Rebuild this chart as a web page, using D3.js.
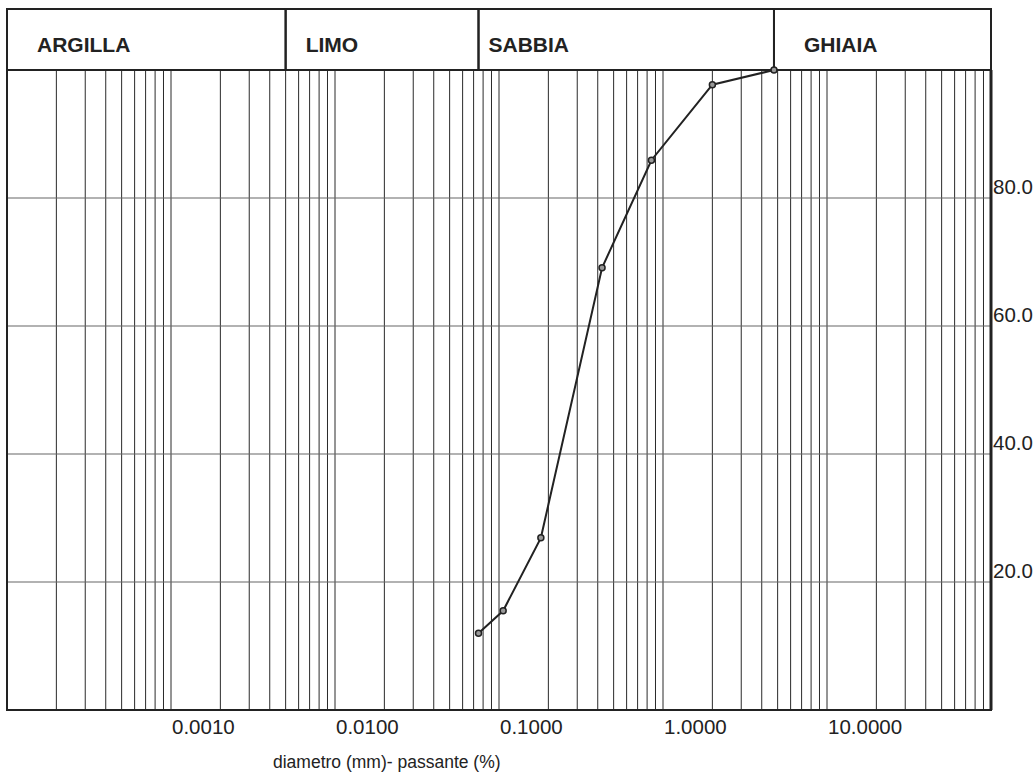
<!DOCTYPE html>
<html>
<head>
<meta charset="utf-8">
<script src="https://cdn.jsdelivr.net/npm/d3@7"></script>
<style>
  html, body { margin: 0; padding: 0; background: #fff; }
  svg { display: block; }
  text { font-family: "Liberation Sans", Arial, Helvetica, sans-serif; fill: #222; }
</style>
</head>
<body>
<svg id="chart" width="1034" height="775"></svg>
<script>
// Grain size distribution: sieve openings (mm) and percent passing
const diameters = [0.075, 0.106, 0.18, 0.425, 0.85, 2.0, 4.75];
const passing   = [12.0, 15.5, 26.9, 69.1, 85.9, 97.7, 100.0];

// Soil classes and their boundaries (mm)
const classes     = ["ARGILLA", "LIMO", "SABBIA", "GHIAIA"];
const classBounds = [0.0001, 0.005, 0.075, 4.75, 100];

// Axis tick labels
const xTickValues = [0.001, 0.01, 0.1, 1, 10];
const xTickLabels = ["0.0010", "0.0100", "0.1000", "1.0000", "10.0000"];
const yTickValues = [20, 40, 60, 80];
const yTickLabels = ["20.0", "40.0", "60.0", "80.0"];

(function () {
  const svg = d3.select("#chart");
  const mLeft = 7, mRight = 991, mTop = 70, mBottom = 710, headTop = 9;

  const x = d3.scaleLog().domain([1e-4, 100]).range([mLeft, mRight]);
  const y = d3.scaleLinear().domain([0, 100]).range([mBottom, mTop]);

  // Vertical log grid: 1..9 in every decade
  const vLines = [];
  for (let e = -4; e <= 1; e++) {
    for (let m = 1; m <= 9; m++) vLines.push(m * Math.pow(10, e));
  }
  svg.append("g")
    .selectAll("line").data(vLines).join("line")
    .attr("x1", d => x(d)).attr("x2", d => x(d))
    .attr("y1", mTop).attr("y2", mBottom)
    .attr("stroke", "#2a2a2a").attr("stroke-width", 1);

  // Horizontal grid
  svg.append("g")
    .selectAll("line").data(yTickValues).join("line")
    .attr("x1", mLeft).attr("x2", mRight)
    .attr("y1", d => y(d)).attr("y2", d => y(d))
    .attr("stroke", "#666").attr("stroke-width", 1.2);

  // Plot frame
  svg.append("rect")
    .attr("x", mLeft).attr("y", mTop)
    .attr("width", mRight - mLeft).attr("height", mBottom - mTop)
    .attr("fill", "none").attr("stroke", "#222").attr("stroke-width", 2);
  svg.append("line")
    .attr("x1", mRight).attr("x2", mRight).attr("y1", mTop).attr("y2", mBottom)
    .attr("stroke", "#222").attr("stroke-width", 3);

  // Class header boxes
  const head = svg.append("g");
  const labelOffset = [30, 20, 10, 30];
  classes.forEach((c, i) => {
    const x0 = x(classBounds[i]), x1 = x(classBounds[i + 1]);
    head.append("rect")
      .attr("x", x0).attr("y", headTop)
      .attr("width", x1 - x0).attr("height", mTop - headTop)
      .attr("fill", "none").attr("stroke", "#222").attr("stroke-width", 2);
    head.append("text")
      .attr("x", x0 + labelOffset[i]).attr("y", 52)
      .attr("font-size", 21).attr("font-weight", "bold")
      .text(c);
  });

  // X tick labels, left-aligned on decade lines
  svg.append("g")
    .selectAll("text").data(xTickValues).join("text")
    .attr("x", d => x(d) + 1).attr("y", 734)
    .attr("font-size", 20.5)
    .text((d, i) => xTickLabels[i]);

  // Y tick labels on the right
  svg.append("g")
    .selectAll("text").data(yTickValues).join("text")
    .attr("x", mRight + 2).attr("y", d => y(d) - 4)
    .attr("font-size", 20.5)
    .text((d, i) => yTickLabels[i]);

  // Axis title
  svg.append("text")
    .attr("x", 273).attr("y", 768)
    .attr("font-size", 17.5)
    .text("diametro (mm)- passante (%)");

  // Curve
  const pts = diameters.map((d, i) => [d, passing[i]]);
  svg.append("path")
    .datum(pts)
    .attr("fill", "none").attr("stroke", "#222").attr("stroke-width", 2)
    .attr("d", d3.line().x(d => x(d[0])).y(d => y(d[1])));
  svg.append("g")
    .selectAll("circle").data(pts).join("circle")
    .attr("cx", d => x(d[0])).attr("cy", d => y(d[1]))
    .attr("r", 3).attr("fill", "#999").attr("stroke", "#222").attr("stroke-width", 1.5);
})();
</script>
</body>
</html>
